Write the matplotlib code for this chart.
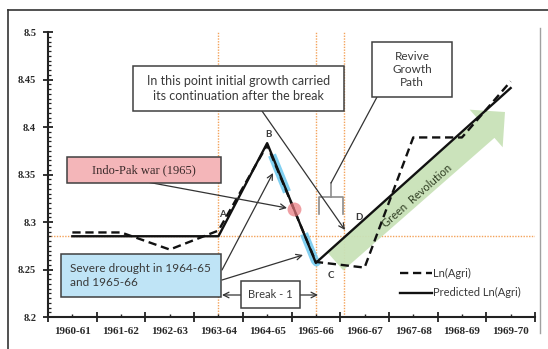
import matplotlib
matplotlib.use('Agg')
import matplotlib.pyplot as plt
import numpy as np
from matplotlib.patches import Rectangle, Polygon
from matplotlib.lines import Line2D
from matplotlib.ticker import MultipleLocator, FixedLocator

# ---------------- data ----------------
categories = ['1960-61', '1961-62', '1962-63', '1963-64', '1964-65',
              '1965-66', '1966-67', '1967-68', '1968-69', '1969-70']
ln_agri = [8.289, 8.289, 8.271, 8.291, 8.381, 8.258, 8.252, 8.389, 8.389, 8.448]
predicted = [8.285, 8.285, 8.285, 8.285, 8.383, 8.257, 8.303, 8.349, 8.395, 8.441]
y_ticks = [8.2, 8.25, 8.3, 8.35, 8.4, 8.45, 8.5]
y_tick_labels = ['8.2', '8.25', '8.3', '8.35', '8.4', '8.45', '8.5']
series_labels = ['Ln(Agri)', 'Predicted Ln(Agri)']

# ---------------- layout ----------------
W, H = 548, 349
fig = plt.figure(figsize=(W / 100, H / 100), dpi=100)
fig.patch.set_facecolor('white')
AX_L, AX_R, AX_T, AX_B = 48, 535, 32, 317
ax = fig.add_axes([AX_L / W, 1 - AX_B / H, (AX_R - AX_L) / W, (AX_B - AX_T) / H])
n = len(categories)
x = np.arange(n)
ax.set_xlim(-0.5, n - 0.5)
ax.set_ylim(y_ticks[0], y_ticks[-1])
Y0, Y1 = y_ticks[0], y_ticks[-1]


def P(px, py):
    """reference-image pixel -> data coords (for annotations only)"""
    return (-0.5 + (px - AX_L) / (AX_R - AX_L) * n,
            Y0 + (AX_B - py) / (AX_B - AX_T) * (Y1 - Y0))


SANS = ['Lato', 'DejaVu Sans']
SERIF = ['Liberation Serif', 'DejaVu Serif']
TXT = '#3a3a3a'
EDGE = '#404040'

# ---------------- reference lines (orange dotted) ----------------
orange = '#f4a35a'
level = predicted[0]
ax.axhline(level, color=orange, lw=1.0, ls=(0, (1, 1)), zorder=1)
for xv in [3, 5, P(344, 0)[0]]:
    ax.axvline(xv, color=orange, lw=1.0, ls=(0, (1, 1)), zorder=1)

# ---------------- green arrow ----------------
T = np.array([335.0, 261.0])
tip = np.array([505.0, 112.0])
u = (tip - T) / np.linalg.norm(tip - T)
nv = np.array([-u[1], u[0]])
base = tip - 25 * u
pts_px = [T + 12.5 * nv, base + 12.5 * nv, base + 25 * nv, tip,
          base - 25 * nv, base - 12.5 * nv, T - 12.5 * nv]
pts = [P(*p) for p in pts_px]
ax.add_patch(Polygon(pts, closed=True, fc='#c9e2b8', ec='none', alpha=0.95, zorder=1.5))
gx, gy = P(417, 196)
ax.text(gx, gy, 'Green  Revolution', rotation=41.5, rotation_mode='anchor',
        ha='center', va='center', fontsize=8, color='#2f3d22', family=SANS, zorder=6)

# ---------------- blue highlights & red dot ----------------
for xa, xb in [(P(272, 0)[0], P(287, 0)[0]), (P(304, 0)[0], P(318, 0)[0])]:
    xs = np.linspace(xa, xb, 10)
    ax.plot(xs, np.interp(xs, x, predicted), color='#6cc8ef', lw=6,
            alpha=0.85, solid_capstyle='butt', zorder=2)
xr = P(294, 0)[0]
ax.plot([xr], [np.interp(xr, x, predicted)], 'o', ms=10, color='#e8767c',
        alpha=0.7, mec='none', zorder=6)

# ---------------- series ----------------
l1, = ax.plot(x, ln_agri, color='#111111', lw=1.7, dashes=(3.5, 2.0), zorder=4,
              label=series_labels[0])
l2, = ax.plot(x, predicted, color='#111111', lw=1.7, zorder=3,
              label=series_labels[1])

# ---------------- axes styling ----------------
for s in ['top', 'right']:
    ax.spines[s].set_visible(False)
for s in ['left', 'bottom']:
    ax.spines[s].set_color('#222222')
    ax.spines[s].set_linewidth(1.5)

ax.set_xticks(np.arange(-0.5, n, 1.0))
ax.xaxis.set_minor_locator(FixedLocator(x))
ax.set_xticklabels([], minor=False)
ax.set_xticklabels(categories, minor=True)
ax.tick_params(axis='x', which='major', direction='inout', length=7, width=1.3,
               color='#222222', labelbottom=False)
ax.tick_params(axis='x', which='minor', direction='in', length=2.5, width=1,
               color='#222222', pad=7, labelsize=8, labelcolor='#2a2a2a')
ax.set_yticks(y_ticks)
ax.set_yticklabels(y_tick_labels)
ax.yaxis.set_minor_locator(MultipleLocator(0.005))
ax.tick_params(axis='y', which='major', direction='inout', length=7, width=1.3,
               color='#222222', pad=5, labelsize=7.5, labelcolor='#2a2a2a')
ax.tick_params(axis='y', which='minor', direction='in', length=2.5, width=0.9,
               color='#222222')
for lab in ax.get_xticklabels(minor=True) + ax.get_yticklabels():
    lab.set_family(SERIF)
    lab.set_fontweight('bold')

# ---------------- boxes ----------------
def box(px0, py0, px1, py1, fc, zorder=7):
    (x0, y0), (x1, y1) = P(px0, py1), P(px1, py0)
    ax.add_patch(Rectangle((x0, y0), x1 - x0, y1 - y0, fc=fc, ec=EDGE, lw=1.1,
                           zorder=zorder))


def arrow(p_from, p_to, color='#333333', lw=0.9, head=True):
    ax.annotate('', xy=P(*p_to), xytext=P(*p_from),
                arrowprops=dict(arrowstyle='->' if head else '-', lw=lw, color=color,
                                shrinkA=0, shrinkB=0, mutation_scale=10),
                zorder=6)

# "In this point ..."
box(133, 66, 344, 111, 'white')
ax.text(*P(238.5, 88.5), 'In this point initial growth carried\nits continuation after the break',
        ha='center', va='center', fontsize=9, color=TXT, family=SANS,
        linespacing=1.35, zorder=8)
arrow((262, 111), (345, 230))

# "Revive Growth Path"
box(372, 42, 452, 97, 'white')
ax.text(*P(412, 69.5), 'Revive\nGrowth\nPath', ha='center', va='center', fontsize=8.5,
        color=TXT, family=SANS, linespacing=1.25, zorder=8)
arrow((377, 97), (331, 183), head=False)
bx = [P(319, 214), P(319, 197), P(343, 197), P(343, 214)]
ax.plot([p[0] for p in bx], [p[1] for p in bx], color='#8c8c8c', lw=1.2, zorder=5)
st = [P(331, 197), P(331, 183)]
ax.plot([p[0] for p in st], [p[1] for p in st], color='#8c8c8c', lw=1.2, zorder=5)

# Indo-Pak war
box(67, 157, 221, 183, '#f4b6b9')
ax.text(*P(144, 170), 'Indo-Pak war (1965)', ha='center', va='center', fontsize=9,
        color='#3a2a2a', family=SERIF, zorder=8)
arrow((147, 182), (287, 208))

# Severe drought
box(61, 254, 221, 297, '#bfe4f6')
ax.text(*P(70, 275.5), 'Severe drought in 1964-65\nand 1965-66', ha='left', va='center',
        fontsize=8.5, color=TXT, family=SANS, linespacing=1.4, zorder=8)
arrow((222, 270), (273, 173))
arrow((222, 280), (303, 255))

# Break - 1
box(241, 281, 300, 308, 'white')
ax.text(*P(270.5, 294.5), 'Break - 1', ha='center', va='center', fontsize=8,
        color=TXT, family=SANS, zorder=8)
arrow((241, 295), (222, 295))
arrow((300, 295), (318, 295))

# point labels
for lab, (px, py) in [('A', (222, 214)), ('B', (268, 134)), ('C', (331, 275)), ('D', (359, 217))]:
    ax.text(*P(px, py), lab, ha='center', va='center', fontsize=7, fontweight='bold',
            color=TXT, family=SANS, zorder=8)

# ---------------- legend ----------------
leg = ax.legend(handles=[l1, l2], loc='upper left',
                bbox_to_anchor=((400 - AX_L) / (AX_R - AX_L), (AX_B - 268) / (AX_B - AX_T)),
                frameon=False, handlelength=2.9, handletextpad=0.1,
                labelspacing=0.75, borderpad=0, borderaxespad=0,
                prop={'family': SANS, 'size': 8})
for t in leg.get_texts():
    t.set_color(TXT)

# ---------------- outer frame ----------------
def fl(x0, y0, x1, y1, color, lw):
    fig.add_artist(Line2D([x0 / W, x1 / W], [1 - y0 / H, 1 - y1 / H],
                          color=color, lw=lw, transform=fig.transFigure))

fl(8, 10, 548, 10, '#333333', 1.2)
fl(8, 10, 8, 349, '#333333', 1.2)
fl(540, 28, 540, 333, '#a0a0a0', 1.0)

fig.savefig('out.png', dpi=100, facecolor='white')
